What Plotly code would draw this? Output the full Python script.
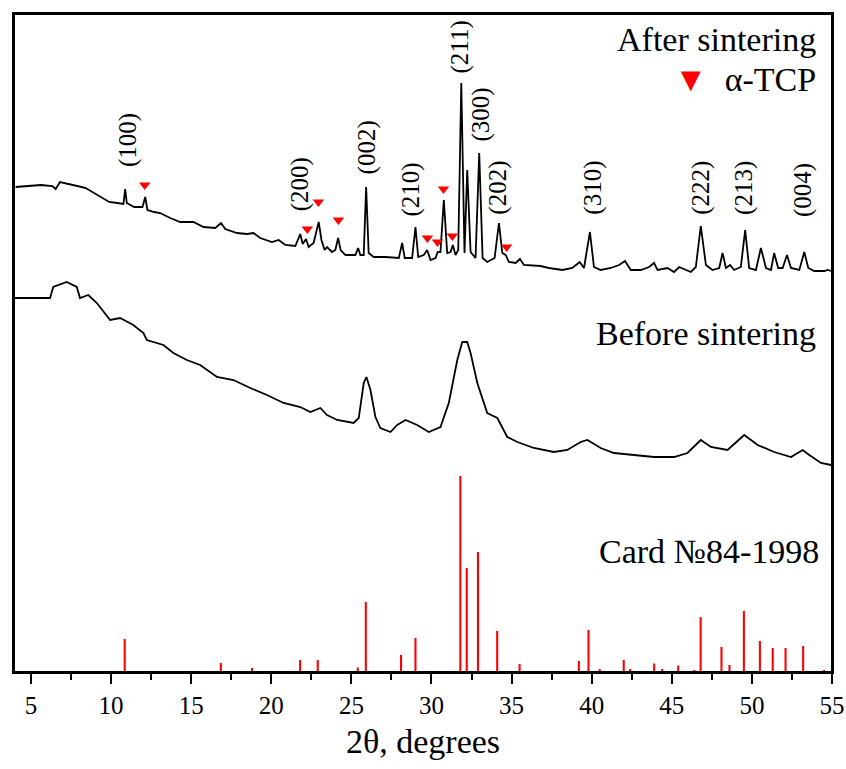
import plotly.graph_objects as go

# ---------------- data (2θ in degrees, intensity in arbitrary units) ----------------
after_2theta = [4.04, 4.77, 5.61, 6.33, 6.54, 6.81, 7.27, 7.89, 8.42, 8.94, 9.46, 9.88, 10.39, 10.77,
                10.88, 10.98, 11.44, 11.96, 12.13, 12.27, 12.69, 13.06, 13.69, 14.31, 15.14, 15.77,
                16.5, 16.86, 17.13, 17.86, 18.48, 18.89, 19.31, 20.04, 20.46, 20.88, 21.5, 21.81,
                21.96, 22.17, 22.33, 22.64, 22.96, 23.13, 23.33, 23.48, 23.79, 24.0, 24.17, 24.33,
                24.63, 25.25, 25.42, 25.56, 25.77, 25.92, 26.08, 26.39, 27.13, 27.96, 28.17, 28.33,
                28.79, 29.0, 29.17, 29.52, 29.73, 29.94, 30.25, 30.39, 30.56, 30.77, 30.98, 31.19,
                31.33, 31.5, 31.67, 31.86, 32.06, 32.23, 32.44, 32.75, 32.98, 33.19, 33.48, 33.94,
                34.21, 34.42, 34.63, 34.83, 35.25, 35.52, 35.77, 36.81, 37.33, 38.17, 38.79, 39.25,
                39.52, 39.89, 40.14, 40.56, 41.19, 41.71, 42.08, 42.44, 43.06, 43.58, 43.89, 44.11,
                44.73, 45.14, 45.46, 45.88, 46.19, 46.5, 46.81, 47.13, 47.54, 47.96, 48.17, 48.38,
                48.64, 48.89, 49.31, 49.58, 49.83, 50.25, 50.56, 50.88, 51.19, 51.39, 51.64, 51.92,
                52.19, 52.44, 52.96, 53.27, 53.52, 53.89, 54.52, 54.73, 54.94]
after_int = [485, 486, 487, 486, 483, 490, 488, 486, 484, 479, 474, 470, 469, 468,
             483, 469, 465, 465, 475, 462, 460, 459, 454, 450, 450, 445,
             444, 449, 443, 439, 438, 439, 434, 430, 432, 427, 426, 438,
             428, 433, 425, 429, 450, 432, 422, 425, 420, 422, 434, 422,
             417, 417, 424, 417, 417, 485, 419, 415, 415, 414, 429, 414,
             414, 445, 415, 417, 422, 412, 414, 420, 420, 472, 419, 420,
             427, 417, 422, 589, 419, 502, 420, 414, 519, 414, 410, 414,
             449, 419, 417, 410, 409, 413, 407, 406, 404, 402, 404, 410,
             404, 440, 405, 402, 404, 407, 411, 402, 402, 405, 409, 402,
             404, 400, 405, 402, 400, 405, 446, 407, 402, 404, 419, 404,
             407, 402, 405, 442, 404, 402, 424, 404, 402, 419, 404, 404,
             417, 404, 402, 420, 404, 401, 401, 402, 401]

before_2theta = [4.0, 5.14, 6.19, 6.39, 7.23, 7.86, 8.06, 8.58, 9.11, 9.94, 10.56, 11.39, 12.02,
                 12.23, 13.27, 13.89, 14.73, 15.56, 16.61, 17.64, 18.69, 19.73, 20.77, 21.81,
                 22.44, 23.06, 23.48, 24.11, 25.14, 25.46, 25.77, 25.94, 26.19, 26.5, 26.81,
                 27.44, 27.86, 28.38, 29.11, 29.83, 30.56, 31.08, 31.61, 31.92, 32.23, 32.44,
                 32.86, 33.48, 34.11, 34.73, 35.36, 36.39, 37.64, 38.48, 39.31, 39.73, 40.56,
                 41.39, 42.64, 43.89, 45.14, 45.98, 46.81, 47.44, 48.48, 49.52, 50.36, 51.39,
                 52.44, 53.17, 53.58, 54.31, 54.94]
before_int = [374, 374, 374, 385, 390, 385, 374, 377, 369, 352, 354, 347, 339,
              332, 327, 319, 312, 307, 295, 292, 284, 277, 269, 265,
              260, 264, 257, 252, 249, 254, 289, 295, 282, 255, 244,
              240, 247, 252, 247, 240, 245, 269, 312, 330, 330, 319,
              289, 259, 254, 235, 230, 224, 220, 222, 230, 232, 224,
              219, 217, 215, 215, 219, 232, 225, 222, 237, 227, 220,
              215, 222, 217, 209, 207]

card_2theta = [10.85, 16.85, 18.8, 21.8, 22.9, 25.4, 25.9, 28.1, 29.0, 31.8, 32.2, 32.9, 34.1,
               35.5, 38.2, 39.2, 39.8, 40.5, 40.9, 42.0, 42.4, 43.9, 44.4, 45.4, 46.4, 46.8,
               48.1, 48.6, 49.5, 50.5, 51.3, 52.1, 53.2, 54.5]
card_int = [33, 9, 4, 12, 12, 4.5, 70, 17, 34, 196, 104, 120, 41,
            8, 1, 11, 42, 3, 1, 12, 3, 8.5, 3, 6.5, 2, 55,
            25, 7, 61, 31, 24, 24, 26, 2]

tcp_2theta = [12.1, 22.25, 22.94, 24.19, 29.75, 30.375, 30.75, 31.3, 34.69]
tcp_mark = [487, 443, 470, 452, 434, 430, 483, 436, 425]

hkl_labels = ["(100)", "(200)", "(002)", "(210)", "(211)", "(300)", "(202)", "(310)", "(222)", "(213)", "(004)"]
hkl_2theta = [11.06, 21.81, 26.0, 28.69, 31.81, 33.06, 34.13, 40.06, 46.81, 49.5, 53.19]
hkl_level = [532, 488, 525, 482, 625, 557, 484, 484, 484, 484, 482]

tick_vals = [5, 10, 15, 20, 25, 30, 35, 40, 45, 50, 55]
tick_text = [str(v) for v in tick_vals]

FONT = "Liberation Serif"

fig = go.Figure()
fig.add_trace(go.Bar(x=card_2theta, y=card_int, width=0.13,
                     marker=dict(color="#ff0000", line=dict(width=0)), showlegend=False))
fig.add_trace(go.Scatter(x=before_2theta, y=before_int, mode="lines",
                         line=dict(color="black", width=1.8), showlegend=False))
fig.add_trace(go.Scatter(x=after_2theta, y=after_int, mode="lines",
                         line=dict(color="black", width=1.8), showlegend=False))
fig.add_trace(go.Scatter(x=tcp_2theta, y=tcp_mark, mode="markers",
                         marker=dict(symbol="triangle-down", color="#ff0000", size=10,
                                     line=dict(width=0)), showlegend=False))

annotations = []
for lab, xv, yv in zip(hkl_labels, hkl_2theta, hkl_level):
    annotations.append(dict(x=xv, y=yv, text=lab, textangle=-90, showarrow=False,
                            xanchor="center", yanchor="middle",
                            font=dict(family=FONT, size=25, color="black")))

side_labels = [
    ("After sintering", 54.1, 633),
    ("<span style='color:#ff0000'>▼</span>  α-TCP", 54.1, 593),
    ("Before sintering", 54.1, 339),
    ("Card №84-1998", 54.3, 121),
]
for txt, xv, yv in side_labels:
    annotations.append(dict(x=xv, y=yv, text=txt, showarrow=False, xanchor="right",
                            yanchor="middle", font=dict(family=FONT, size=34, color="black")))

fig.update_layout(
    width=846, height=769,
    margin=dict(l=14, r=14, t=14, b=97, autoexpand=False),
    paper_bgcolor="white", plot_bgcolor="white",
    annotations=annotations,
    shapes=[dict(type="rect", xref="paper", yref="paper", x0=0, x1=1, y0=0, y1=1,
                 line=dict(color="black", width=2), fillcolor="rgba(0,0,0,0)", layer="above")],
    xaxis=dict(range=[3.94, 55], tickvals=tick_vals, ticktext=tick_text, automargin=False,
               ticks="outside", ticklen=10, tickwidth=2, tickcolor="black",
               minor=dict(tickvals=[7.5 + 5 * i for i in range(10)], ticks="outside",
                          ticklen=6, tickwidth=2, tickcolor="black"),
               showline=True, linewidth=2, linecolor="black", mirror=True,
               showgrid=False, zeroline=False,
               tickfont=dict(family=FONT, size=25, color="black"),
               title=dict(text="2θ, degrees", font=dict(family=FONT, size=34, color="black"),
                          standoff=11)),
    yaxis=dict(range=[0, 658], showticklabels=False, ticks="", automargin=False,
               showline=True, linewidth=2, linecolor="black", mirror=True,
               showgrid=False, zeroline=False),
)

fig.write_html("out.html", config={"displayModeBar": False},
               post_script="document.body.style.margin='0';document.body.style.overflow='hidden';")
